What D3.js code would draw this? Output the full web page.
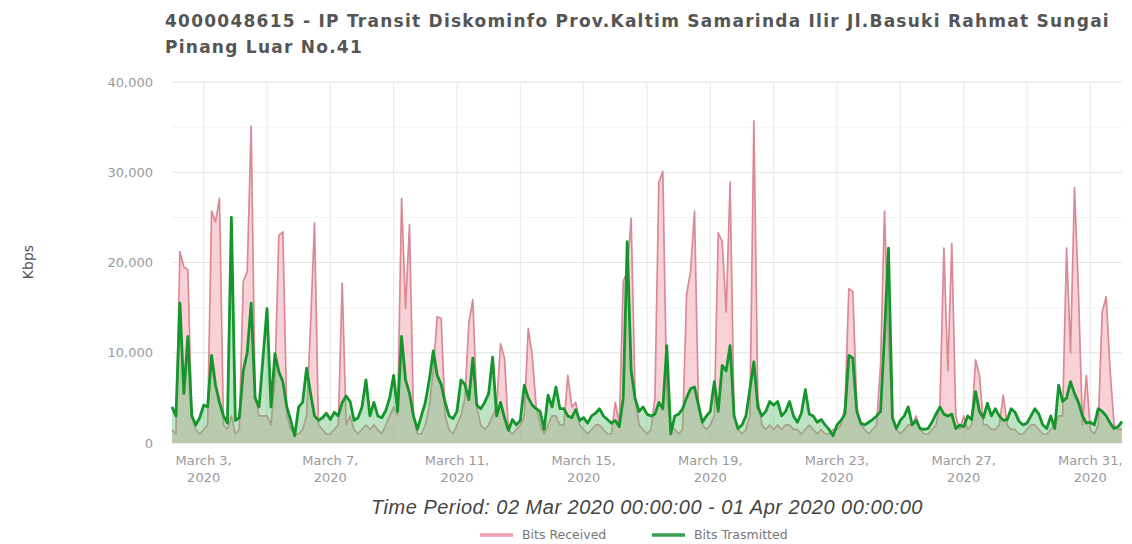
<html>
<head>
    <meta http-equiv="Content-Type" content="text/html;charset=UTF-8">
    <title>Bandwidth</title>
    <style type="text/css">
        *{margin: 0;padding: 0;}
        body{background: #fff;}
        svg{display: block;}
    </style>
</head>
<body>
    <div class="container"></div>
    <script type="text/javascript" src="https://cdn.jsdelivr.net/npm/d3@7/dist/d3.min.js"></script>
    <script>
        // ---- data (Kbps), one sample every 3 hours from 02 Mar 2020 00:00 ----
        var startTime = Date.UTC(2020, 2, 2, 0, 0, 0);
        var endTime = Date.UTC(2020, 3, 1, 0, 0, 0);
        var stepHours = 3;

        var bitsReceived = [
            1500, 1000, 21200, 19500, 19200, 3000, 1500, 1000,
            1500, 2000, 25700, 24500, 27100, 2000, 1500, 3000,
            1000, 1500, 17900, 19000, 35100, 5000, 3000, 3000,
            3000, 2000, 7000, 23000, 23400, 3000, 1500, 1000,
            1000, 1500, 3000, 13000, 24400, 2000, 1500, 1000,
            1000, 1500, 2000, 17700, 2000, 3000, 1500, 1000,
            1500, 2000, 1500, 2000, 1500, 1000, 2000, 3000,
            4000, 3000, 27100, 14900, 24200, 3000, 1000, 1000,
            2000, 4000, 8000, 14000, 13800, 3000, 1500, 1000,
            2000, 3000, 5000, 13300, 15900, 4000, 2000, 1500,
            2000, 3000, 4000, 11000, 9400, 1500, 1000, 1500,
            2000, 3000, 12700, 9700, 4000, 2000, 1000, 2000,
            3000, 3000, 2000, 2000, 7500, 4000, 4500, 2000,
            1500, 1000, 1500, 2000, 2000, 1500, 1000, 1000,
            4500, 2000, 17900, 19000, 24900, 5000, 2000, 1500,
            1000, 1500, 5000, 28900, 30100, 5000, 2000, 1500,
            1000, 1500, 16400, 19000, 25700, 4000, 2000, 1500,
            2000, 3000, 23300, 22300, 14500, 28900, 3000, 1500,
            1000, 1500, 3000, 35700, 5000, 2000, 1500, 2000,
            1500, 2000, 1500, 2000, 2000, 1500, 1500, 1000,
            1500, 2000, 1500, 1000, 1500, 1000, 1000, 1500,
            1500, 2000, 4000, 17100, 16800, 4000, 2000, 1500,
            1000, 1500, 2000, 8600, 25700, 11600, 3000, 1500,
            1000, 1500, 2000, 2000, 3000, 1500, 1000, 1000,
            1500, 2000, 4000, 21600, 8000, 22100, 3000, 1500,
            3000, 1500, 2000, 9200, 7500, 2000, 2000, 1500,
            1500, 2000, 5300, 2000, 1500, 1500, 1000, 1000,
            1500, 2000, 2000, 1500, 1000, 1000, 1500, 2000,
            3000, 3000, 21600, 10000, 28300, 16800, 2000, 7500,
            1500, 1000, 2000, 14500, 16200, 8000, 2000, 1500,
            1500
        ];

        var bitsTransmitted = [
            4000, 3000, 15500, 5500, 11800, 3000, 2000, 2800,
            4200, 4000, 9700, 6400, 4500, 3000, 2200, 25000,
            2500, 2800, 8000, 10000, 15500, 5000, 4000, 9500,
            14900, 4000, 9900, 7900, 6800, 4000, 2500, 800,
            4000, 4500, 8300, 5500, 3000, 2500, 2800, 3300,
            2600, 3400, 3000, 4500, 5200, 4600, 2500, 2800,
            4000, 7000, 3000, 4500, 3000, 2800, 3600, 5000,
            7500, 3500, 11800, 7000, 5500, 3000, 1500, 3000,
            4500, 7000, 10200, 7500, 6500, 4500, 3000, 2700,
            3500, 7000, 6500, 4800, 9400, 4200, 3800, 4500,
            5500, 9500, 3000, 4500, 2800, 1400, 2600, 2000,
            2500, 6400, 5000, 4200, 3800, 3500, 1500, 5300,
            4000, 6200, 3800, 3800, 3000, 2800, 3700, 2500,
            2800, 2200, 3000, 3300, 3800, 3000, 2600, 2200,
            2500, 1800, 5000, 22300, 8000, 4900, 3500, 4000,
            3200, 3000, 3200, 4500, 3800, 10800, 1000, 3000,
            3200, 3800, 5000, 6000, 6200, 4200, 2300, 3000,
            3500, 6800, 3500, 8600, 8000, 10800, 3000, 1600,
            2000, 3000, 6000, 9000, 4000, 3000, 3500, 4600,
            4200, 4600, 3000, 3500, 4600, 3000, 2300, 3300,
            5900, 3200, 3000, 2300, 2600, 2000, 1500, 800,
            2000, 2500, 3200, 9700, 9400, 3500, 2200, 2000,
            2300, 2600, 3000, 3500, 12000, 21600, 2800, 1600,
            2500, 3000, 4000, 2000, 2500, 1600, 1500, 1600,
            2300, 3200, 4000, 3200, 3000, 3200, 1600, 2000,
            1800, 3000, 2600, 5700, 3500, 2800, 4400, 3000,
            3800, 3000, 2500, 2600, 3800, 3400, 2400, 2000,
            2200, 3000, 3800, 3200, 2000, 1600, 3000, 1600,
            6400, 4600, 5000, 6800, 5500, 4500, 3000, 2200,
            2300, 2000, 3800, 3500, 3000, 2200, 1600, 1800,
            2400
        ];

        var yTicks = [0, 10000, 20000, 30000, 40000];
        var yMinorTicks = [5000, 15000, 25000, 35000];
        var labelDays = [3, 7, 11, 15, 19, 23, 27, 31];
        var gridDays = [3, 5, 7, 9, 11, 13, 15, 17, 19, 21, 23, 25, 27, 29, 31];

        var titleLines = [
            "4000048615 - IP Transit Diskominfo Prov.Kaltim Samarinda Ilir Jl.Basuki Rahmat Sungai",
            "Pinang Luar No.41"
        ];
        var xTitle = "Time Period: 02 Mar 2020 00:00:00 - 01 Apr 2020 00:00:00";
        var yTitle = "Kbps";
        var seriesNames = ["Bits Received", "Bits Trasmitted"];

        // ---- layout ----
        var width = 1132;
        var height = 544;
        var plotLeft = 172, plotRight = 1122, plotTop = 82, plotBottom = 443;

        var svg = d3.select(".container")
            .append("svg")
            .attr("width", width)
            .attr("height", height);

        var x = d3.scaleUtc()
            .domain([new Date(startTime), new Date(endTime)])
            .range([plotLeft, plotRight]);

        var y = d3.scaleLinear()
            .domain([0, 40000])
            .range([plotBottom, plotTop]);

        function timeOf(i) {
            return new Date(startTime + i * stepHours * 3600 * 1000);
        }
        function dayX(d) {
            return x(new Date(Date.UTC(2020, 2, d)));
        }

        // grid
        var grid = svg.append("g");
        grid.selectAll(".minor")
            .data(yMinorTicks)
            .enter()
            .append("line")
            .attr("x1", plotLeft).attr("x2", plotRight)
            .attr("y1", function(d){ return y(d); })
            .attr("y2", function(d){ return y(d); })
            .attr("stroke", "#f3f3f3")
            .attr("stroke-width", 1);

        grid.selectAll(".major")
            .data(yTicks)
            .enter()
            .append("line")
            .attr("x1", plotLeft).attr("x2", plotRight)
            .attr("y1", function(d){ return y(d); })
            .attr("y2", function(d){ return y(d); })
            .attr("stroke", "#e2e2e2")
            .attr("stroke-width", 1);

        grid.selectAll(".vgrid")
            .data(gridDays)
            .enter()
            .append("line")
            .attr("x1", dayX)
            .attr("x2", dayX)
            .attr("y1", plotTop).attr("y2", plotBottom)
            .attr("stroke", "#e8e8e8")
            .attr("stroke-width", 1);

        // series
        var area = d3.area()
            .x(function(d, i){ return x(timeOf(i)); })
            .y0(y(0))
            .y1(function(d){ return y(d); });

        var line = d3.line()
            .x(function(d, i){ return x(timeOf(i)); })
            .y(function(d){ return y(d); });

        svg.append("path")
            .datum(bitsReceived)
            .attr("d", area)
            .attr("fill", "#f4adb7")
            .attr("fill-opacity", 0.55);

        svg.append("path")
            .datum(bitsReceived)
            .attr("d", line)
            .attr("fill", "none")
            .attr("stroke", "#da8a96")
            .attr("stroke-width", 1.7)
            .attr("stroke-linejoin", "round");

        svg.append("path")
            .datum(bitsTransmitted)
            .attr("d", area)
            .attr("fill", "#62c274")
            .attr("fill-opacity", 0.42);

        svg.append("path")
            .datum(bitsTransmitted)
            .attr("d", line)
            .attr("fill", "none")
            .attr("stroke", "#15952c")
            .attr("stroke-width", 2.8)
            .attr("stroke-linejoin", "round");

        // y axis labels
        svg.append("g").selectAll("text")
            .data(yTicks)
            .enter()
            .append("text")
            .attr("x", 153)
            .attr("y", function(d){ return y(d); })
            .attr("dy", "0.35em")
            .attr("text-anchor", "end")
            .attr("font-family", "DejaVu Sans")
            .attr("font-size", 13)
            .attr("fill", "#9a9a9a")
            .text(d3.format(","));

        svg.append("text")
            .attr("transform", "translate(28,262) rotate(-90)")
            .attr("dy", "0.35em")
            .attr("text-anchor", "middle")
            .attr("font-family", "DejaVu Sans")
            .attr("font-size", 14)
            .attr("fill", "#555")
            .text(yTitle);

        // x axis labels
        var xl = svg.append("g").selectAll("text")
            .data(labelDays)
            .enter()
            .append("text")
            .attr("text-anchor", "middle")
            .attr("font-family", "DejaVu Sans")
            .attr("font-size", 13)
            .attr("fill", "#9a9a9a");
        xl.append("tspan")
            .attr("x", dayX)
            .attr("y", 465)
            .text(function(d){ return "March " + d + ","; });
        xl.append("tspan")
            .attr("x", dayX)
            .attr("y", 482)
            .text("2020");

        svg.append("text")
            .attr("x", (plotLeft + plotRight) / 2)
            .attr("y", 514)
            .attr("text-anchor", "middle")
            .attr("font-family", "Liberation Sans")
            .attr("font-style", "italic")
            .attr("font-size", 20)
            .attr("letter-spacing", 0.5)
            .attr("fill", "#444")
            .text(xTitle);

        // title
        svg.append("g").selectAll("text")
            .data(titleLines)
            .enter()
            .append("text")
            .attr("x", plotLeft - 7)
            .attr("y", function(d, i){ return 27 + i * 26; })
            .attr("font-family", "DejaVu Sans")
            .attr("font-weight", "bold")
            .attr("font-size", 17)
            .attr("letter-spacing", 1.25)
            .attr("fill", "#555")
            .text(function(d){ return d; });

        // legend
        var legendColors = ["#f2a0ad", "#3a9f52"];
        var legendX = [480, 652];
        var lg = svg.append("g").selectAll("g")
            .data(seriesNames)
            .enter()
            .append("g")
            .attr("transform", function(d, i){ return "translate(" + legendX[i] + ",535)"; });
        lg.append("line")
            .attr("x1", 0).attr("x2", 33)
            .attr("y1", 0).attr("y2", 0)
            .attr("stroke", function(d, i){ return legendColors[i]; })
            .attr("stroke-width", 3.5);
        lg.append("text")
            .attr("x", 42)
            .attr("dy", "0.35em")
            .attr("font-family", "DejaVu Sans")
            .attr("font-size", 12.5)
            .attr("fill", "#777")
            .text(function(d){ return d; });
    </script>
</body>
</html>
